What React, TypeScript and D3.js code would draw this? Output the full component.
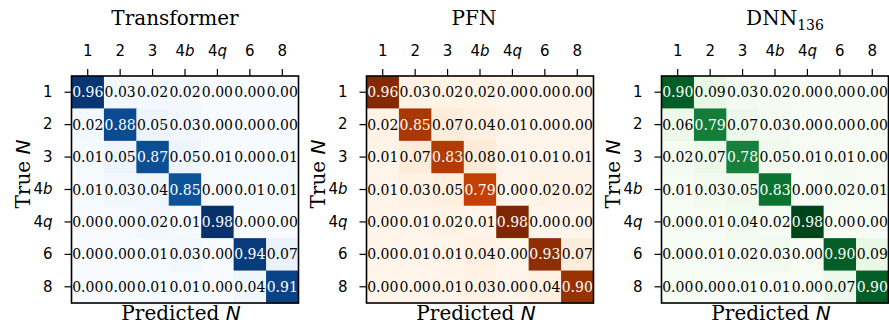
import React, { useEffect, useRef } from "react";
import {
  select,
  scaleBand,
  scaleSequential,
  axisTop,
  axisLeft,
  interpolateBlues,
  interpolateOranges,
  interpolateGreens,
  max,
} from "d3";

// class labels (rows = true N, columns = predicted N)
const classes = ["1", "2", "3", "4b", "4q", "6", "8"];

const transformer = [
  [0.96, 0.03, 0.02, 0.02, 0.0, 0.0, 0.0],
  [0.02, 0.88, 0.05, 0.03, 0.0, 0.0, 0.0],
  [0.01, 0.05, 0.87, 0.05, 0.01, 0.0, 0.01],
  [0.01, 0.03, 0.04, 0.85, 0.0, 0.01, 0.01],
  [0.0, 0.0, 0.02, 0.01, 0.98, 0.0, 0.0],
  [0.0, 0.0, 0.01, 0.03, 0.0, 0.94, 0.07],
  [0.0, 0.0, 0.01, 0.01, 0.0, 0.04, 0.91],
];

const pfn = [
  [0.96, 0.03, 0.02, 0.02, 0.0, 0.0, 0.0],
  [0.02, 0.85, 0.07, 0.04, 0.01, 0.0, 0.0],
  [0.01, 0.07, 0.83, 0.08, 0.01, 0.01, 0.01],
  [0.01, 0.03, 0.05, 0.79, 0.0, 0.02, 0.02],
  [0.0, 0.01, 0.02, 0.01, 0.98, 0.0, 0.0],
  [0.0, 0.01, 0.01, 0.04, 0.0, 0.93, 0.07],
  [0.0, 0.0, 0.01, 0.03, 0.0, 0.04, 0.9],
];

const dnn = [
  [0.9, 0.09, 0.03, 0.02, 0.0, 0.0, 0.0],
  [0.06, 0.79, 0.07, 0.03, 0.0, 0.0, 0.0],
  [0.02, 0.07, 0.78, 0.05, 0.01, 0.01, 0.0],
  [0.01, 0.03, 0.05, 0.83, 0.0, 0.02, 0.01],
  [0.0, 0.01, 0.04, 0.02, 0.98, 0.0, 0.0],
  [0.0, 0.01, 0.02, 0.03, 0.0, 0.9, 0.09],
  [0.0, 0.0, 0.01, 0.01, 0.0, 0.07, 0.9],
];

const panels = [
  { title: "Transformer", sub: "", data: transformer, interp: interpolateBlues },
  { title: "PFN", sub: "", data: pfn, interp: interpolateOranges },
  { title: "DNN", sub: "136", data: dnn, interp: interpolateGreens },
];

const serif = "DejaVu Serif";
const sans = "DejaVu Sans";

// write "4b" / "4q" with the letter in italic, like mathtext
function italicize(sel) {
  sel.each(function (d) {
    const t = select(this);
    t.text(null);
    const m = /^(\d)([a-z])$/.exec(d);
    if (m) {
      t.append("tspan").text(m[1]);
      t.append("tspan").attr("font-style", "italic").text(m[2]);
    } else {
      t.text(d);
    }
  });
}

const App = () => {
  const svgRef = useRef(null);

  useEffect(() => {
    const svg = select(svgRef.current);
    svg.selectAll("*").remove();

    const size = 227;
    const top = 76;
    const lefts = [71.5, 366.5, 661.5];
    const titleDx = [-10, -6, 10];

    panels.forEach((p, i) => {
      const g = svg.append("g").attr("transform", `translate(${lefts[i]},${top})`);
      const x = scaleBand().domain(classes).range([0, size]);
      const y = scaleBand().domain(classes).range([0, size]);
      const vmax = max(p.data.flat());
      const color = scaleSequential(p.interp).domain([0, vmax]);

      const cells = p.data.flatMap((row, r) =>
        row.map((v, c) => ({ r: classes[r], c: classes[c], v }))
      );

      g.selectAll(".cell")
        .data(cells)
        .join("rect")
        .attr("class", "cell")
        .attr("x", (d) => x(d.c))
        .attr("y", (d) => y(d.r))
        .attr("width", x.bandwidth() + 0.5)
        .attr("height", y.bandwidth() + 0.5)
        .attr("fill", (d) => color(d.v));

      g.selectAll(".val")
        .data(cells)
        .join("text")
        .attr("class", "val")
        .attr("x", (d) => x(d.c) + x.bandwidth() / 2)
        .attr("y", (d) => y(d.r) + y.bandwidth() / 2)
        .attr("text-anchor", "middle")
        .attr("dominant-baseline", "central")
        .style("font", `14px '${serif}'`)
        .attr("fill", (d) => (d.v > 0.5 ? "#ffffff" : "#000000"))
        .text((d) => d.v.toFixed(2));

      g.append("rect")
        .attr("width", size)
        .attr("height", size)
        .attr("fill", "none")
        .attr("stroke", "#000")
        .attr("stroke-width", 1.6);

      const xAxis = g
        .append("g")
        .call(axisTop(x).tickSize(7).tickPadding(13).tickSizeOuter(0));
      const yAxis = g
        .append("g")
        .call(axisLeft(y).tickSize(7).tickPadding(12).tickSizeOuter(0));
      [xAxis, yAxis].forEach((a) => {
        a.select(".domain").remove();
        a.selectAll("line").attr("stroke", "#000").attr("stroke-width", 1.2);
        a.selectAll("text")
          .attr("fill", "#000")
          .style("font", `15px '${sans}'`)
          .call(italicize);
      });

      // title
      const t = g
        .append("text")
        .attr("x", size / 2 + titleDx[i])
        .attr("y", 25 - top)
        .attr("text-anchor", "middle")
        .style("font", `20px '${serif}'`)
        .attr("fill", "#000");
      t.append("tspan").text(p.title);
      if (p.sub) {
        t.append("tspan").attr("dy", 5).style("font-size", "14px").text(p.sub);
      }

      // x label
      const xl = g
        .append("text")
        .attr("x", size / 2 - 4)
        .attr("y", 320 - top)
        .attr("text-anchor", "middle")
        .style("font", `20px '${serif}'`)
        .attr("fill", "#000");
      xl.append("tspan").text("Predicted ");
      xl.append("tspan").style("font-family", sans).attr("font-style", "italic").text("N");

      // y label
      const yl = g
        .append("text")
        .attr("transform", `translate(-42,${174 - top}) rotate(-90)`)
        .attr("text-anchor", "middle")
        .style("font", `20px '${serif}'`)
        .attr("fill", "#000");
      yl.append("tspan").text("True ");
      yl.append("tspan").style("font-family", sans).attr("font-style", "italic").text("N");
    });
  }, []);

  return (
    <svg
      ref={svgRef}
      width={889}
      height={327}
      style={{ position: "absolute", left: 0, top: 0, background: "#fff" }}
    />
  );
};

export default App;
